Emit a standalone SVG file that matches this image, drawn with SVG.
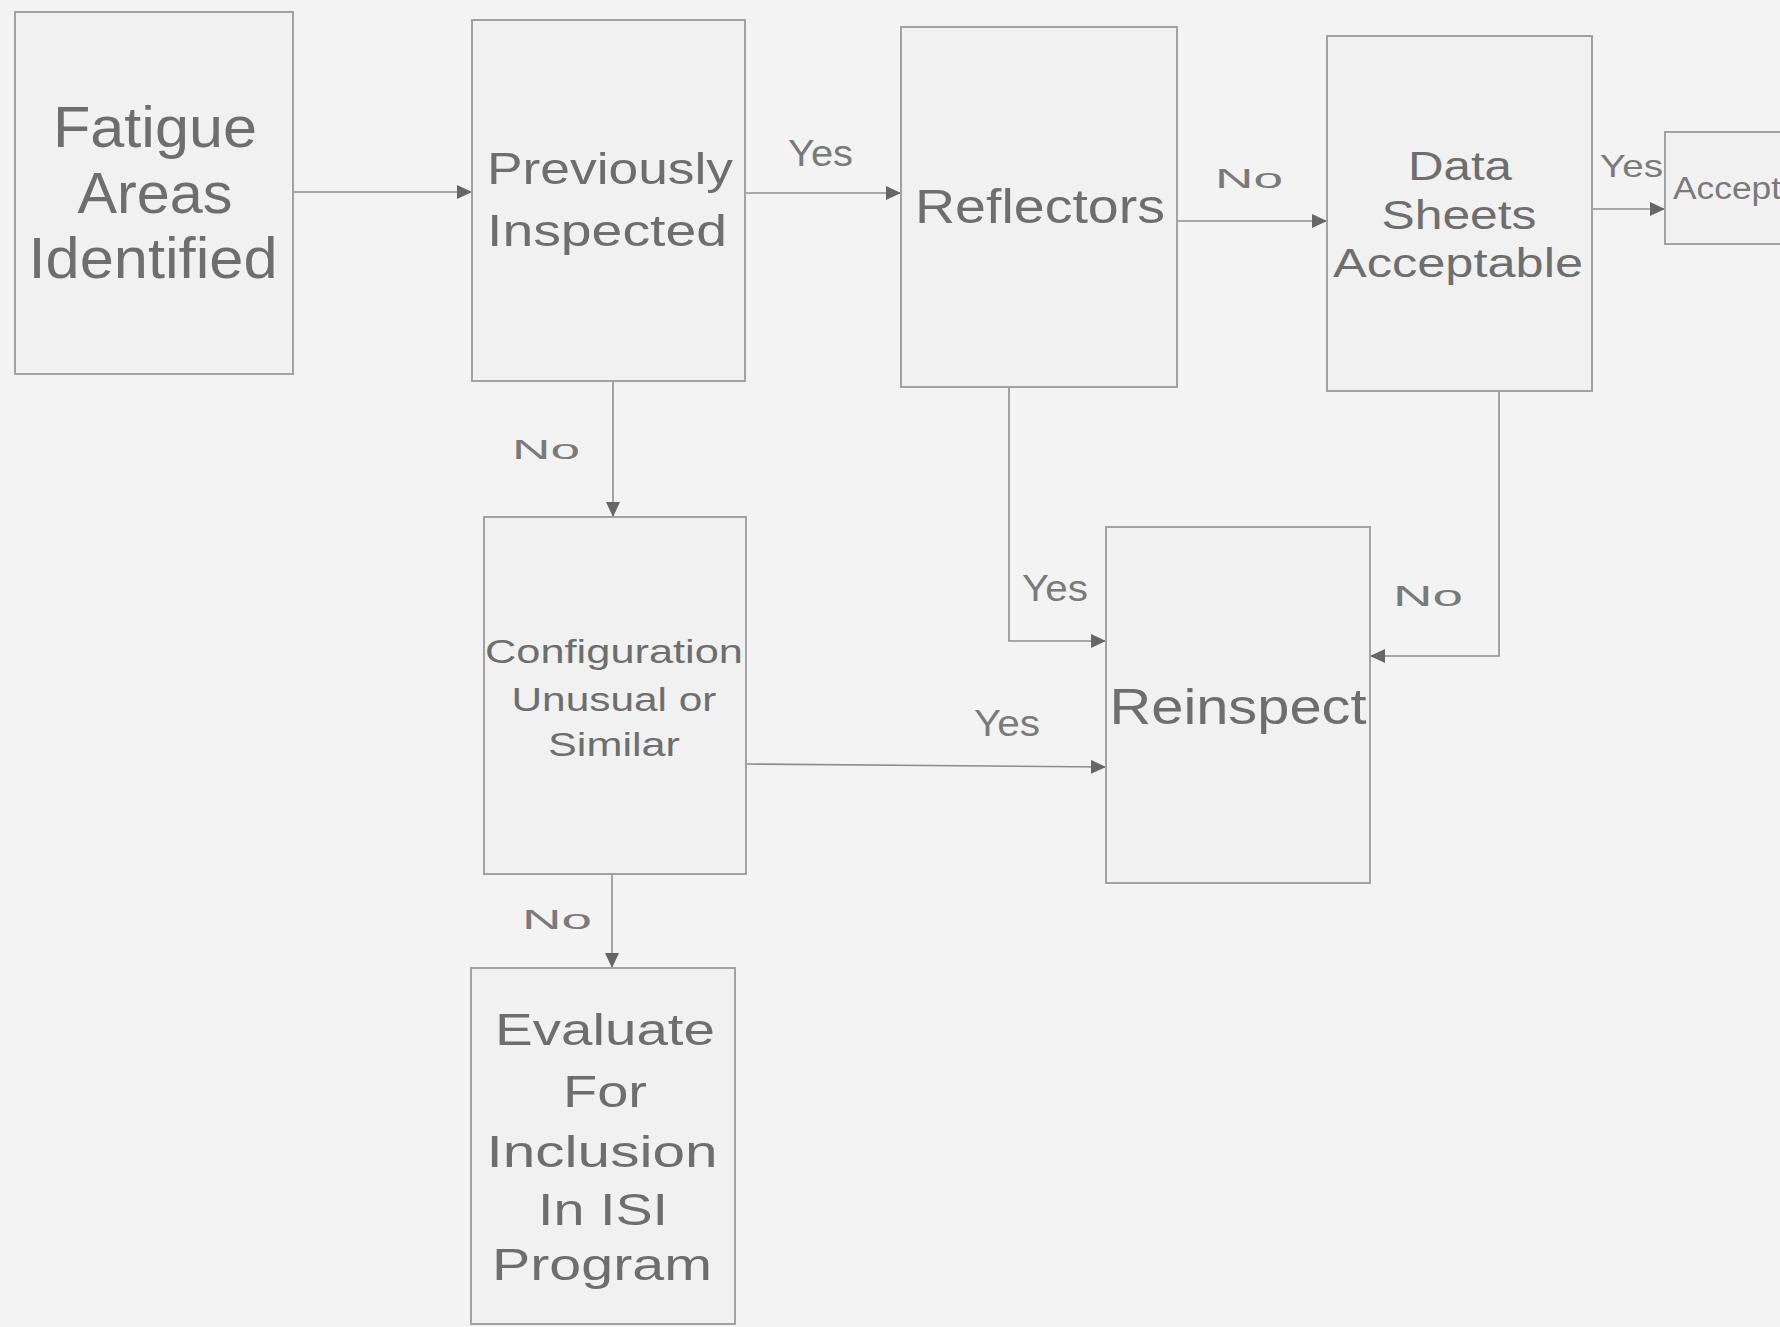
<svg xmlns="http://www.w3.org/2000/svg" width="1780" height="1327" viewBox="0 0 1780 1327">
<style>
.box{fill:#f1f1f1;stroke:#a2a2a2;stroke-width:2}
.t{font-family:"Liberation Sans",Arial,sans-serif;fill:#6e6e6e;text-anchor:middle}
.lbl{font-family:"Liberation Sans",Arial,sans-serif;fill:#7a7a7a}
.c{fill:none;stroke:#8e8e8e;stroke-width:1.6}
</style>
<defs>
<marker id="ah" markerUnits="userSpaceOnUse" markerWidth="16" markerHeight="14" refX="15" refY="7" orient="auto">
<path d="M0,0 L15,7 L0,14 Z" fill="#666"/>
</marker>
</defs>
<rect width="1780" height="1327" fill="#f3f3f3"/>

<g id="connectors">
<path class="c" d="M293,192 L472,192" marker-end="url(#ah)"/>
<path class="c" d="M745,193 L901,193" marker-end="url(#ah)"/>
<path class="c" d="M1177,221 L1327,221" marker-end="url(#ah)"/>
<path class="c" d="M1592,209 L1665,209" marker-end="url(#ah)"/>
<path class="c" d="M613,381 L613,517" marker-end="url(#ah)"/>
<path class="c" d="M1009,387 L1009,641 L1106,641" marker-end="url(#ah)"/>
<path class="c" d="M1499,391 L1499,656 L1370,656" marker-end="url(#ah)"/>
<path class="c" d="M746,764 L1106,767" marker-end="url(#ah)"/>
<path class="c" d="M612,874 L612,968" marker-end="url(#ah)"/>
<text class="lbl" x="788" y="166" font-size="36" textLength="65" lengthAdjust="spacingAndGlyphs">Yes</text>
<text class="lbl" x="1215" y="188" font-size="28" textLength="68" lengthAdjust="spacingAndGlyphs">No</text>
<text class="lbl" x="1600" y="177" font-size="32" textLength="63" lengthAdjust="spacingAndGlyphs" fill="#666">Yes</text>
<text class="lbl" x="512" y="459" font-size="28" textLength="68" lengthAdjust="spacingAndGlyphs">No</text>
<text class="lbl" x="1022" y="601" font-size="36" textLength="66" lengthAdjust="spacingAndGlyphs">Yes</text>
<text class="lbl" x="1393" y="606" font-size="29" textLength="70" lengthAdjust="spacingAndGlyphs">No</text>
<text class="lbl" x="974" y="736" font-size="36" textLength="66" lengthAdjust="spacingAndGlyphs" fill="#8a8a8a">Yes</text>
<text class="lbl" x="522" y="929" font-size="28" textLength="70" lengthAdjust="spacingAndGlyphs">No</text>
</g>

<g id="fatigue">
<rect class="box" x="15" y="12" width="278" height="362"/>
<text class="t" x="155" y="147" font-size="57" textLength="204" lengthAdjust="spacingAndGlyphs">Fatigue</text>
<text class="t" x="155" y="213" font-size="57" textLength="155" lengthAdjust="spacingAndGlyphs">Areas</text>
<text class="t" x="153" y="278" font-size="57" textLength="249" lengthAdjust="spacingAndGlyphs">Identified</text>
</g>

<g id="previously">
<rect class="box" x="472" y="20" width="273" height="361"/>
<text class="t" x="610" y="184" font-size="45" textLength="246" lengthAdjust="spacingAndGlyphs">Previously</text>
<text class="t" x="607" y="246" font-size="45" textLength="240" lengthAdjust="spacingAndGlyphs">Inspected</text>
</g>

<g id="reflectors">
<rect class="box" x="901" y="27" width="276" height="360"/>
<text class="t" x="1040" y="223" font-size="49" textLength="250" lengthAdjust="spacingAndGlyphs">Reflectors</text>
</g>

<g id="datasheets">
<rect class="box" x="1327" y="36" width="265" height="355"/>
<text class="t" x="1460" y="180" font-size="40" textLength="104" lengthAdjust="spacingAndGlyphs" fill="#787878">Data</text>
<text class="t" x="1459" y="229" font-size="40" textLength="155" lengthAdjust="spacingAndGlyphs" fill="#787878">Sheets</text>
<text class="t" x="1458" y="277" font-size="40" textLength="250" lengthAdjust="spacingAndGlyphs" fill="#787878">Acceptable</text>
</g>

<g id="accept">
<rect class="box" x="1665" y="132" width="130" height="112"/>
<text class="lbl" x="1673" y="199" font-size="31" textLength="108" lengthAdjust="spacingAndGlyphs" fill="#888">Accept</text>
</g>

<g id="configuration">
<rect class="box" x="484" y="517" width="262" height="357"/>
<text class="t" x="614" y="663" font-size="33" textLength="258" lengthAdjust="spacingAndGlyphs" fill="#858585">Configuration</text>
<text class="t" x="614" y="711" font-size="33" textLength="205" lengthAdjust="spacingAndGlyphs" fill="#858585">Unusual or</text>
<text class="t" x="614" y="756" font-size="33" textLength="132" lengthAdjust="spacingAndGlyphs" fill="#858585">Similar</text>
</g>

<g id="reinspect">
<rect class="box" x="1106" y="527" width="264" height="356"/>
<text class="t" x="1238" y="724" font-size="50" textLength="257" lengthAdjust="spacingAndGlyphs" fill="#686868">Reinspect</text>
</g>

<g id="evaluate">
<rect class="box" x="471" y="968" width="264" height="356"/>
<text class="t" x="605" y="1045" font-size="45" textLength="220" lengthAdjust="spacingAndGlyphs">Evaluate</text>
<text class="t" x="605" y="1107" font-size="45" textLength="84" lengthAdjust="spacingAndGlyphs">For</text>
<text class="t" x="602" y="1167" font-size="45" textLength="231" lengthAdjust="spacingAndGlyphs">Inclusion</text>
<text class="t" x="603" y="1225" font-size="45" textLength="130" lengthAdjust="spacingAndGlyphs">In ISI</text>
<text class="t" x="602" y="1280" font-size="45" textLength="220" lengthAdjust="spacingAndGlyphs">Program</text>
</g>
</svg>
